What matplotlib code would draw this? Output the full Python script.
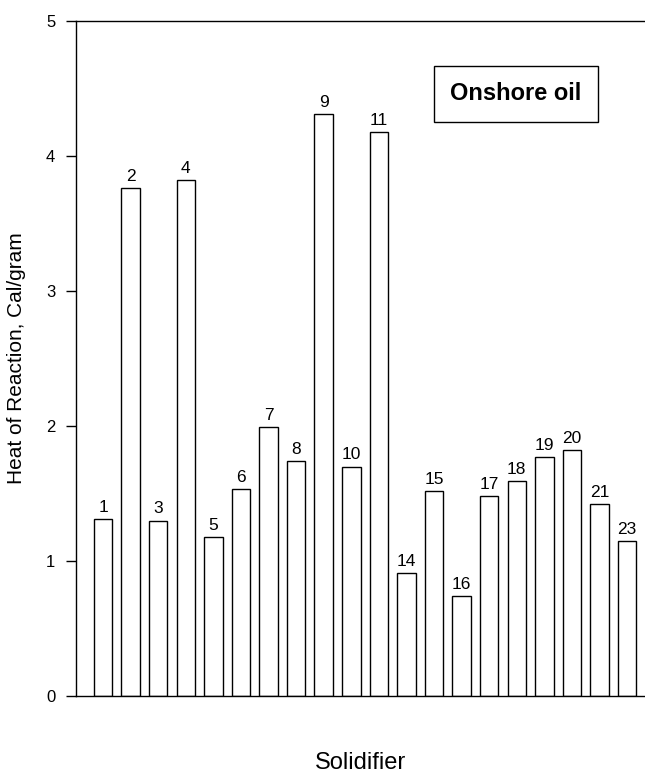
import matplotlib
matplotlib.use("Agg")
import matplotlib.pyplot as plt

plt.rcParams['font.family'] = ['Liberation Sans', 'DejaVu Sans']

solidifiers = ["1", "2", "3", "4", "5", "6", "7", "8", "9", "10", "11",
               "14", "15", "16", "17", "18", "19", "20", "21", "23"]
heat = [1.31, 3.76, 1.30, 3.82, 1.18, 1.53, 1.99, 1.74, 4.31, 1.70, 4.18,
        0.91, 1.52, 0.74, 1.48, 1.59, 1.77, 1.82, 1.42, 1.15]
yticks = [0, 1, 2, 3, 4, 5]

fig = plt.figure(figsize=(6.45, 7.73), dpi=100)
ax = fig.add_axes([76/645, 1 - 696/773, 1 - 76/645, (696 - 21)/773])

x = list(range(len(solidifiers)))
ax.bar(x, heat, width=0.67, color='white', edgecolor='black', linewidth=1.0)
for xi, h, lab in zip(x, heat, solidifiers):
    ax.annotate(lab, (xi, h), xytext=(0, 3), textcoords='offset points',
                ha='center', va='bottom', fontsize=12.5)

ax.set_xlim(-0.98, 19.65)
ax.set_ylim(0, 5)
ax.set_yticks(yticks)
ax.set_xticks([])
ax.tick_params(axis='y', direction='out', length=7, width=1, labelsize=12, pad=8)
ax.spines['right'].set_visible(False)
for s in ['left', 'bottom', 'top']:
    ax.spines[s].set_linewidth(1.0)

ax.set_ylabel("Heat of Reaction, Cal/gram", fontsize=15, labelpad=14)
ax.set_xlabel("Solidifier", fontsize=17, labelpad=40)

ax.text(516/645, 1 - 94/773, "Onshore oil", transform=fig.transFigure,
        ha='center', va='center', fontsize=17, fontweight='bold',
        bbox=dict(boxstyle='square,pad=0.68', facecolor='white', edgecolor='black', linewidth=1.0))

fig.savefig("out.png", dpi=100)
